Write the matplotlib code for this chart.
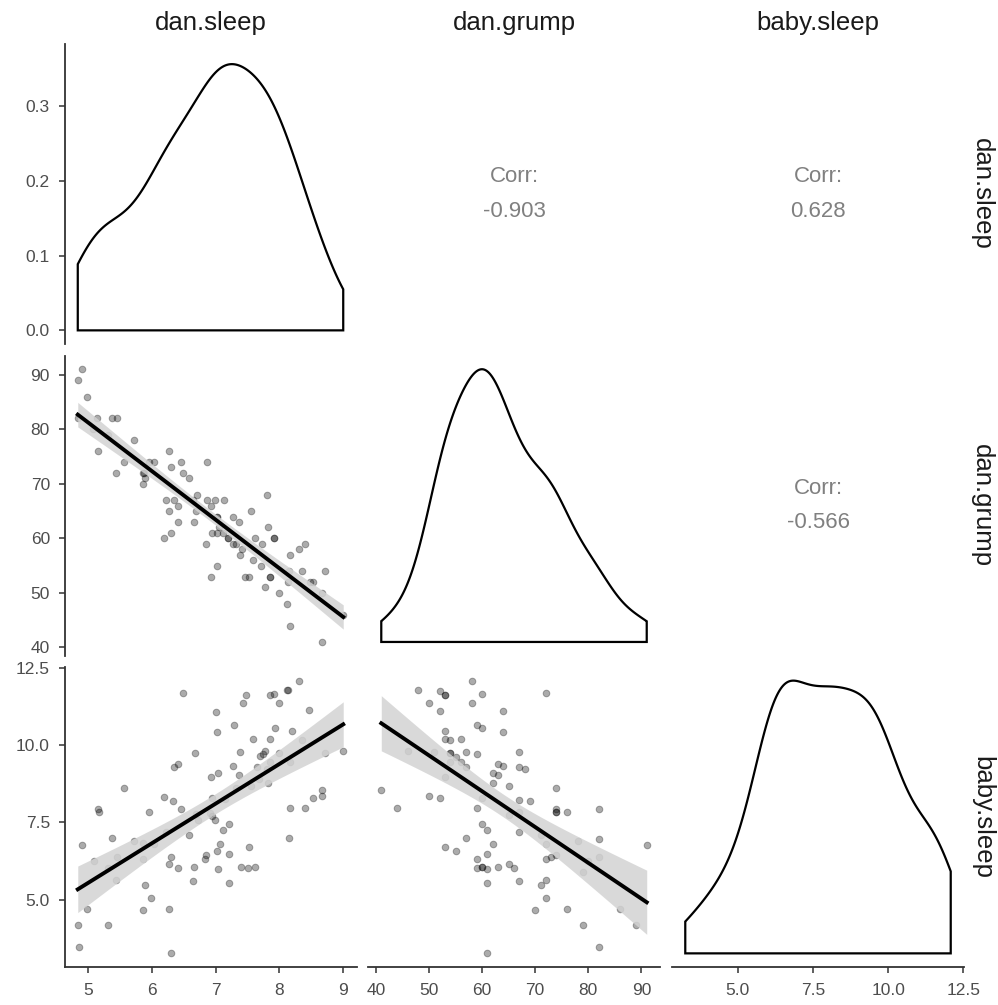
import numpy as np
import matplotlib
matplotlib.use("Agg")
import matplotlib.pyplot as plt

plt.rcParams['font.family'] = ['Liberation Sans', 'DejaVu Sans']

# variable names
variables = ["dan.sleep", "dan.grump", "baby.sleep"]

# panel dan.sleep (x) vs dan.grump (y)
sg_sleep = [4.84, 4.91, 4.98, 4.85, 5.14, 5.37, 5.45, 5.08, 5.32, 5.16, 5.72, 5.57, 5.44, 5.87,
            5.95, 6.03, 5.90, 5.87, 6.27, 6.30, 6.45, 6.49, 6.58, 6.86, 6.22, 6.35, 6.41, 6.27,
            6.41, 6.30, 6.19, 6.66, 6.70, 6.71, 6.65, 6.87, 6.93, 6.99, 7.13, 7.02, 6.94, 6.85,
            7.02, 7.05, 7.11, 7.20, 7.27, 7.36, 7.28, 7.32, 7.42, 7.38, 7.55, 7.80, 7.82, 7.62,
            7.73, 7.91, 7.59, 7.71, 7.02, 6.93, 7.46, 7.53, 7.77, 7.85, 7.99, 8.12, 8.16, 8.16,
            8.31, 8.40, 8.15, 8.14, 8.35, 8.48, 8.53, 8.66, 8.72, 8.66, 9.00, 5.88, 7.91, 7.85,
            7.20, 7.02]
sg_grump = [89, 91, 86, 82, 82, 82, 82, 80, 79, 76, 78, 74, 72, 72,
            74, 74, 71, 70, 76, 73, 74, 72, 71, 74, 67, 67, 66, 65,
            63, 61, 60, 63, 65, 68, 67, 67, 66, 67, 67, 64, 61, 59,
            61, 62, 61, 60, 64, 63, 59, 59, 58, 57, 65, 68, 62, 60,
            59, 60, 56, 55, 55, 53, 53, 53, 51, 53, 50, 48, 44, 57,
            58, 59, 54, 52, 54, 52, 52, 50, 54, 41, 46, 72, 60, 53,
            60, 64]

# panel dan.sleep (x) vs baby.sleep (y)
sb_sleep = [4.86, 4.84, 4.98, 4.91, 5.09, 5.15, 5.17, 5.32, 5.38, 5.45, 5.44, 5.57, 5.72, 5.87,
            5.87, 5.90, 5.87, 5.99, 5.95, 6.04, 6.19, 6.22, 6.27, 6.30, 6.27, 6.30, 6.33, 6.35,
            6.41, 6.49, 6.41, 6.45, 6.58, 6.66, 6.65, 6.68, 6.70, 6.72, 6.85, 6.84, 6.91, 6.93,
            6.94, 6.94, 6.99, 7.01, 7.02, 7.03, 7.02, 7.03, 7.07, 7.11, 7.15, 7.21, 7.21, 7.21,
            7.27, 7.29, 7.32, 7.36, 7.38, 7.40, 7.43, 7.48, 7.51, 7.53, 7.55, 7.59, 7.62, 7.65,
            7.68, 7.70, 7.74, 7.77, 7.82, 7.81, 7.85, 7.86, 7.86, 7.92, 7.93, 8.00, 7.99, 8.12,
            8.14, 8.16, 8.16, 8.15, 8.19, 8.31, 8.35, 8.40, 8.47, 8.52, 8.66, 8.66, 8.72, 9.00,
            5.32]
sb_baby = [3.47, 4.19, 4.70, 6.76, 6.26, 7.92, 7.84, 4.19, 6.98, 6.39, 5.64, 8.62, 6.91, 6.82,
           6.32, 5.47, 4.66, 5.05, 7.84, 6.80, 8.33, 7.20, 6.14, 6.39, 4.70, 3.26, 8.20, 9.29,
           9.39, 11.69, 6.03, 7.94, 7.10, 6.05, 5.61, 9.75, 7.76, 7.57, 6.45, 6.32, 7.79, 8.95,
           8.30, 7.69, 7.56, 11.08, 10.42, 9.09, 6.57, 5.99, 6.81, 7.24, 8.24, 7.45, 6.47, 5.52,
           9.32, 10.64, 8.62, 9.03, 9.78, 6.06, 11.35, 11.61, 6.02, 6.69, 8.68, 10.19, 6.04, 9.30,
           8.89, 9.63, 9.72, 9.80, 8.76, 9.21, 11.61, 10.18, 9.44, 11.65, 10.55, 9.75, 11.35, 11.78,
           11.78, 9.44, 7.96, 6.99, 10.45, 12.08, 10.16, 7.96, 11.12, 8.30, 8.53, 8.35, 9.75, 9.82,
           6.01]

# panel dan.grump (x) vs baby.sleep (y)
gb_grump = [41, 44, 46, 48, 50, 50, 51, 52, 52, 52, 53, 53, 53, 53, 53, 53, 54, 54, 54, 54,
            55, 55, 56, 56, 57, 57, 57, 58, 58, 59, 59, 59, 59, 59, 60, 60, 60, 60, 60, 60,
            61, 61, 61, 61, 61, 62, 62, 62, 63, 63, 63, 64, 64, 64, 65, 65, 65, 66, 67, 67,
            67, 67, 67, 67, 68, 69, 70, 71, 71, 72, 72, 72, 72, 72, 73, 74, 74, 74, 74, 74,
            76, 76, 78, 79, 79, 80, 82, 82, 82, 82, 86, 89, 91]
gb_baby = [8.53, 7.96, 9.82, 11.78, 11.36, 8.35, 9.78, 11.76, 11.11, 8.30, 11.62, 11.62, 10.45,
           10.18, 8.95, 6.69, 10.16, 9.75, 9.75, 9.44, 9.62, 6.58, 10.18, 9.44, 9.78, 9.30, 6.98,
           12.07, 11.36, 10.64, 9.72, 7.96, 6.32, 6.03, 11.66, 10.55, 8.30, 7.45, 6.06, 6.06,
           7.24, 6.47, 5.99, 5.52, 3.26, 9.10, 8.76, 6.81, 9.39, 9.03, 6.06, 11.10, 10.42, 9.32,
           8.68, 7.73, 6.14, 6.03, 9.76, 9.29, 8.21, 7.82, 7.18, 5.61, 9.21, 8.20, 4.67, 7.10,
           5.47, 11.69, 6.81, 6.32, 5.64, 5.05, 6.39, 8.62, 7.94, 7.84, 7.84, 6.45, 7.84, 4.70,
           6.91, 5.90, 4.19, 6.26, 7.92, 6.97, 6.39, 3.47, 4.70, 4.19, 6.76]

corr_labels = {(0, 1): "-0.903", (0, 2): "0.628", (1, 2): "-0.566"}

data = {
    "dan.sleep": np.array(sb_sleep),
    "dan.grump": np.array(gb_grump, dtype=float),
    "baby.sleep": np.array(sb_baby),
}
pairs = {
    (1, 0): (np.array(sg_sleep), np.array(sg_grump, dtype=float)),
    (2, 0): (np.array(sb_sleep), np.array(sb_baby)),
    (2, 1): (np.array(gb_grump, dtype=float), np.array(gb_baby)),
}

ticks = {
    "dan.sleep": [5, 6, 7, 8, 9],
    "dan.grump": [40, 50, 60, 70, 80, 90],
    "baby.sleep": [5.0, 7.5, 10.0, 12.5],
}
ticklabels = {
    "dan.sleep": ["5", "6", "7", "8", "9"],
    "dan.grump": ["40", "50", "60", "70", "80", "90"],
    "baby.sleep": ["5.0", "7.5", "10.0", "12.5"],
}


def kde(v, grid):
    n = len(v)
    iqr = np.percentile(v, 75) - np.percentile(v, 25)
    bw = 0.9 * min(v.std(ddof=1), iqr / 1.34) * n ** -0.2
    z = (grid[:, None] - v[None, :]) / bw
    return np.exp(-0.5 * z ** 2).sum(axis=1) / (n * bw * np.sqrt(2 * np.pi))


def lims(v):
    r = v.max() - v.min()
    return v.min() - 0.05 * r, v.max() + 0.05 * r


def all_values(name):
    if name == "dan.sleep":
        return np.concatenate([sg_sleep, sb_sleep])
    if name == "dan.grump":
        return np.concatenate([sg_grump, gb_grump]).astype(float)
    return np.concatenate([sb_baby, gb_baby])


W, H = 998, 1005
fig = plt.figure(figsize=(W / 100, H / 100), dpi=100)
col_left = [64.5, 368.0, 672.0]
col_w = 292.0
row_top = [44.0, 355.6, 667.0]
row_h = 300.0

axis_col = "#333333"
tick_col = "#4D4D4D"

for i, yname in enumerate(variables):
    for j, xname in enumerate(variables):
        ax = fig.add_axes([col_left[j] / W, 1 - (row_top[i] + row_h) / H, col_w / W, row_h / H])
        for s in ax.spines.values():
            s.set_visible(False)
        ax.set_facecolor("none")
        xl = lims(all_values(xname))
        yl = lims(all_values(yname))

        if i < j:
            ax.set_xticks([])
            ax.set_yticks([])
            ax.text(0.5, 0.5, "Corr:\n" + corr_labels[(i, j)], transform=ax.transAxes,
                    ha="center", va="center", fontsize=16, color="#808080", linespacing=1.85)
            continue

        if i == j:
            v = data[xname]
            grid = np.linspace(v.min(), v.max(), 512)
            d = kde(v, grid)
            if i == 0:
                yy = d
                base = 0.0
                ax.set_ylim(-0.05 * 0.365, 0.365 * 1.05)
            else:
                lo, hi = v.min(), v.max()
                yy = lo + d / d.max() * (hi - lo)
                base = lo
                ax.set_ylim(*yl)
            px = np.concatenate([[grid[0]], grid, [grid[-1]]])
            py = np.concatenate([[base], yy, [base]])
            ax.fill(px, py, facecolor="white", edgecolor="black", lw=1.6, closed=True)
            ax.set_xlim(*xl)
        else:
            x, y = pairs[(i, j)]
            ax.scatter(x, y, s=23, facecolor=(0, 0, 0, 0.33), edgecolor=(0, 0, 0, 0.3),
                       linewidths=0.7, zorder=3)
            # linear fit with 95% band
            b, a = np.polyfit(x, y, 1)
            xs = np.linspace(x.min(), x.max(), 100)
            n = len(x)
            resid = y - (a + b * x)
            s_err = np.sqrt((resid ** 2).sum() / (n - 2))
            sxx = ((x - x.mean()) ** 2).sum()
            se = s_err * np.sqrt(1 / n + (xs - x.mean()) ** 2 / sxx)
            fit = a + b * xs
            ax.fill_between(xs, fit - 1.985 * se, fit + 1.985 * se, color="#D3D3D3", lw=0, zorder=4, alpha=0.85)
            ax.plot(xs, fit, color="black", lw=2.8, zorder=5)
            ax.set_xlim(*xl)
            ax.set_ylim(*yl)

        ax.tick_params(colors=axis_col, labelcolor=tick_col, labelsize=12.5, length=4,
                       width=1.1)
        ax.tick_params(axis="y", pad=6.5)
        ax.tick_params(axis="x", pad=7.5)
        if j == 0:
            ax.spines["left"].set_visible(True)
            ax.spines["left"].set_color(axis_col)
            ax.spines["left"].set_linewidth(1.3)
            if i == 0:
                ax.set_yticks([0.0, 0.1, 0.2, 0.3])
                ax.set_yticklabels(["0.0", "0.1", "0.2", "0.3"])
            else:
                ax.set_yticks(ticks[yname])
                ax.set_yticklabels(ticklabels[yname])
        else:
            ax.set_yticks([])
        if i == 2:
            ax.spines["bottom"].set_visible(True)
            ax.spines["bottom"].set_color(axis_col)
            ax.spines["bottom"].set_linewidth(1.3)
            ax.set_xticks(ticks[xname])
            ax.set_xticklabels(ticklabels[xname])
        else:
            ax.set_xticks([])

# strip labels
for j, name in enumerate(variables):
    fig.text((col_left[j] + col_w / 2) / W, 1 - 23 / H, name, ha="center", va="center",
             fontsize=18.5, color="#1A1A1A")
for i, name in enumerate(variables):
    fig.text(982 / W, 1 - (row_top[i] + row_h / 2) / H, name, ha="center", va="center",
             fontsize=18.5, color="#1A1A1A", rotation=270)

fig.savefig("out.png", dpi=100)
